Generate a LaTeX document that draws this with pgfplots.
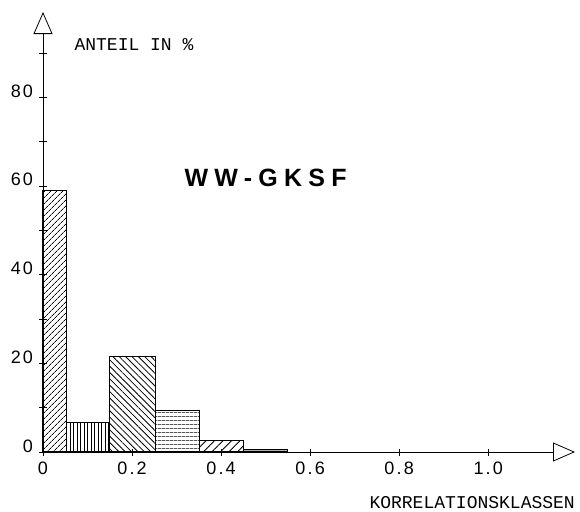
\documentclass[border=0pt]{standalone}
\usepackage{fontspec}
\setmainfont{Liberation Sans}
\newfontfamily\plotfont{Liberation Mono}
\newfontfamily\tickfont{Liberation Sans}[LetterSpace=12]
\newfontfamily\titlefont{Liberation Sans}[LetterSpace=25]
\usepackage{pgfplots}
\pgfplotsset{compat=1.18}
\usetikzlibrary{arrows.meta,patterns.meta}

\begin{document}
\begin{tikzpicture}
    \useasboundingbox (-43pt,-59pt) rectangle (537pt,452pt);
    \begin{axis}[
        anchor           = origin,
        at               = {(0,0)},
        scale only axis,
        width            = 532pt,
        height           = 440pt,
        xmin = 0, xmax = 1.195,
        ymin = 0, ymax = 99.2,
        axis lines       = left,
        axis line style  = {line width=0.7pt,
                            -{Triangle[open, length=22pt, width=19pt, line width=0.8pt]}},
        clip             = false,
        xtick            = {0, 0.2, 0.4, 0.6, 0.8, 1.0},
        xticklabels      = {0, 0.2, 0.4, 0.6, 0.8, 1.0},
        ytick            = {0, 10, ..., 90},
        yticklabels      = {0, , 20, , 40, , 60, , 80, },
        tick align       = center,
        major tick length = 7pt,
        tick style       = {black, line width=0.6pt},
        ticklabel style  = {font=\tickfont\fontsize{18}{18}\selectfont},
        xticklabel style = {yshift=-3pt},
        yticklabel style = {anchor=base east, xshift=-3pt, yshift=0pt},
        ]

        % Balken (Korrelationsklassen)
        \addplot[ybar interval, draw=black, line width=1.1pt,
            pattern={Lines[angle=45, distance=4pt, line width=0.8pt]}]
            coordinates {(0,59) (0.052,59)};
        \addplot[ybar interval, draw=black, line width=1.1pt,
            pattern={Lines[angle=90, distance=3.5pt, line width=0.8pt]}]
            coordinates {(0.052,6.7) (0.15,6.7)};
        \addplot[ybar interval, draw=black, line width=1.1pt,
            pattern={Lines[angle=-45, distance=4.5pt, line width=0.8pt]}]
            coordinates {(0.15,21.6) (0.253,21.6)};
        \addplot[ybar interval, draw=black, line width=1.1pt,
            pattern={Lines[angle=0, distance=4pt, line width=0.8pt]}]
            coordinates {(0.253,9.3) (0.352,9.3)};
        \addplot[ybar interval, draw=black, line width=1.1pt,
            pattern={Lines[angle=45, distance=6pt, line width=0.8pt]}]
            coordinates {(0.352,2.5) (0.451,2.5)};
        \addplot[ybar interval, draw=black, line width=1.1pt, fill=gray!60]
            coordinates {(0.451,0.6) (0.55,0.6)};

        \node[anchor=west, font=\plotfont\fontsize{18}{18}\selectfont]
            at (axis cs:0.063,91.9) {ANTEIL IN \%};
        \node[font=\plotfont\fontsize{18}{18}\selectfont]
            at (axis cs:0.964,-11.3) {KORRELATIONSKLASSEN};
        \node[font=\titlefont\bfseries\fontsize{25}{25}\selectfont]
            at (axis cs:0.5,61.9) {WW-GKSF};
    \end{axis}
\end{tikzpicture}
\end{document}
